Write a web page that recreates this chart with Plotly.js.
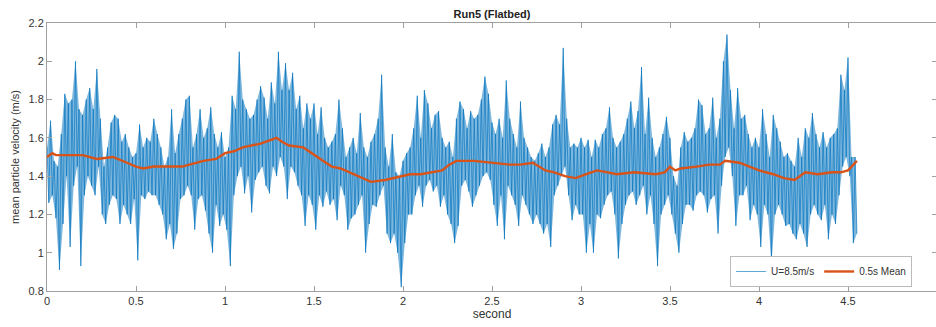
<!DOCTYPE html>
<html>
<head>
<meta charset="utf-8">
<script src="https://cdn.plot.ly/plotly-3.0.1.min.js"></script>
<style>
html,body{margin:0;padding:0;background:#fff;overflow:hidden;width:936px;height:327px;}
#plot{width:940px;height:327px;}
</style>
</head>
<body>
<div id="plot"></div>
<script>
// sample step of the instantaneous series (s)
const step = 0.02;
// upper extremes of the instantaneous velocity in each 0.02 s window (m/s)
const upperVel = [
1.55,1.69,1.48,1.45,1.62, 1.83,1.78,1.80,2.00,1.75, 1.72,1.80,1.86,1.75,1.96, 1.70,1.45,1.55,1.68,1.72,
1.70,1.58,1.62,1.55,1.50, 1.52,1.67,1.55,1.60,1.58, 1.70,1.62,1.55,1.45,1.50, 1.75,1.52,1.62,1.70,1.80,
1.82,1.55,1.62,1.75,1.60, 1.65,1.76,1.62,1.55,1.63, 1.50,1.55,1.82,1.75,2.05, 1.80,1.75,1.70,1.72,1.80,
1.87,1.81,1.70,1.89,1.78, 2.05,1.85,1.99,1.85,1.94, 1.75,1.82,1.65,1.78,1.70, 1.78,1.62,1.76,1.60,1.55,
1.58,1.62,1.80,1.65,1.50, 1.55,1.60,1.52,1.73,1.55, 1.50,1.58,1.62,1.70,1.93, 1.55,1.45,1.62,1.42,1.40,
1.48,1.52,1.55,1.65,1.82, 1.60,1.85,1.78,1.65,1.72, 1.74,1.60,1.55,1.58,1.50, 1.70,1.79,1.75,1.65,1.74,
1.70,1.72,1.80,1.92,1.83, 1.68,1.62,1.70,1.60,1.90, 1.70,1.62,1.55,1.79,1.60, 1.55,1.50,1.48,1.52,1.57,
1.50,1.55,1.67,1.72,1.67, 2.07,1.70,1.55,1.57,1.55, 1.60,1.55,1.59,1.50,1.59, 1.55,1.62,1.65,1.76,1.60,
1.55,1.58,1.62,1.70,1.79, 1.65,1.74,1.97,1.62,1.81, 1.60,1.50,1.55,1.62,1.71, 1.60,1.40,1.35,1.55,1.63,
1.58,1.60,1.65,1.80,1.77, 1.62,1.65,1.81,1.60,1.70, 2.00,2.14,1.85,1.65,1.86, 1.70,1.72,1.62,1.55,1.60,
1.55,1.75,1.62,1.50,1.72, 1.65,1.58,1.50,1.52,1.48, 1.45,1.60,1.50,1.65,1.60, 1.73,1.62,1.55,1.63,1.55,
1.60,1.62,1.65,1.93,1.85, 2.02,1.50,1.50
];
// lower extremes of the instantaneous velocity in each 0.02 s window (m/s)
const lowerVel = [
1.26,1.30,1.18,0.91,1.15, 1.40,1.03,1.35,1.45,0.93, 1.30,1.40,1.35,1.30,1.45, 1.20,1.15,1.25,1.30,1.28,
1.15,1.25,1.20,1.15,1.28, 0.96,1.30,1.28,1.32,1.30, 1.30,1.25,1.20,1.07,1.15, 1.02,1.10,1.28,1.30,1.35,
1.30,1.12,1.28,1.30,1.22, 1.10,1.00,1.25,1.14,1.20, 1.12,0.93,1.30,1.40,1.45, 1.31,1.40,1.21,1.38,1.42,
1.45,1.35,1.31,1.45,1.40, 1.50,1.45,1.28,1.45,1.42, 1.35,1.30,1.14,1.30,1.25, 1.12,1.30,1.24,1.32,1.25,
1.28,1.17,1.35,1.30,1.12, 1.18,1.20,1.25,1.30,1.00, 1.15,1.25,1.24,1.30,1.35, 1.10,1.05,1.10,1.00,0.82,
1.05,1.20,1.20,1.30,1.35, 1.24,1.35,1.38,1.32,1.35, 1.24,1.30,1.20,1.15,1.05, 1.14,1.35,1.38,1.32,1.24,
1.30,1.35,1.40,1.42,1.38, 1.25,1.14,1.30,1.07,1.35, 1.30,1.25,1.14,1.30,1.25, 1.20,1.15,1.20,1.15,1.10,
1.15,1.03,1.30,1.35,1.40, 1.45,1.30,1.17,1.25,1.20, 1.20,1.00,1.15,1.00,1.20, 1.18,1.25,1.30,1.32,1.20,
0.97,1.15,1.25,1.30,1.32, 1.25,1.30,1.35,1.20,1.30, 1.15,0.93,1.20,1.25,1.30, 1.20,1.10,1.00,1.15,1.25,
1.25,1.22,1.30,1.32,1.30, 1.21,1.28,1.30,1.10,1.35, 1.50,1.55,1.40,1.14,1.30, 1.30,1.35,1.17,1.25,1.20,
1.03,1.25,1.20,0.95,1.20, 1.25,1.20,1.14,1.15,1.10, 1.07,1.15,1.10,1.03,1.20, 1.25,1.20,1.17,1.25,1.07,
1.20,1.15,1.30,1.45,1.50, 1.40,1.05,1.10
];
// 0.5 s moving mean
const meanTime = [0,0.03,0.05,0.1,0.2,0.28,0.37,0.45,0.5,0.54,0.6,0.7,0.76,0.8,0.88,0.95,1.0,1.05,1.1,1.2,
1.29,1.32,1.36,1.44,1.5,1.55,1.6,1.65,1.7,1.75,1.82,1.9,1.95,2.04,2.1,2.17,2.22,2.26,2.3,2.4,
2.5,2.6,2.66,2.73,2.8,2.85,2.91,2.97,3.03,3.09,3.15,3.2,3.3,3.42,3.47,3.5,3.53,3.56,3.65,3.72,
3.78,3.81,3.89,3.95,4.0,4.08,4.14,4.2,4.23,4.26,4.33,4.41,4.46,4.5,4.55];
const meanVel = [1.50,1.52,1.51,1.51,1.51,1.49,1.50,1.47,1.45,1.44,1.45,1.45,1.45,1.46,1.48,1.49,1.52,1.53,1.55,1.57,
1.60,1.58,1.56,1.55,1.51,1.48,1.45,1.44,1.42,1.40,1.37,1.38,1.39,1.41,1.41,1.42,1.43,1.46,1.48,1.48,
1.47,1.46,1.46,1.47,1.43,1.42,1.40,1.39,1.41,1.43,1.42,1.41,1.42,1.41,1.42,1.45,1.43,1.44,1.45,1.46,
1.46,1.48,1.47,1.45,1.43,1.41,1.39,1.38,1.40,1.42,1.41,1.42,1.42,1.43,1.48];
const xTicks = [0,0.5,1,1.5,2,2.5,3,3.5,4,4.5,5];
const yTicks = [0.8,1,1.2,1.4,1.6,1.8,2,2.2];

// build the zig-zag instantaneous trace from the window extremes
const rawT = [], rawV = [], upT = [], loT = [];
for (let i = 0; i < upperVel.length; i++) {
  rawT.push(i * step); rawV.push(upperVel[i]);
  rawT.push(i * step + step / 2); rawV.push(lowerVel[i]);
  upT.push(i * step); loT.push(i * step + step / 2);
}

const font = 'Liberation Sans, Arial, Helvetica, sans-serif';
const blue = '0,114,189';
const traces = [
  {x: loT, y: lowerVel, type: 'scatter', mode: 'lines', showlegend: false, hoverinfo: 'skip',
   line: {color: 'rgba(' + blue + ',0)', width: 0}},
  {x: upT, y: upperVel, type: 'scatter', mode: 'lines', showlegend: false, hoverinfo: 'skip',
   fill: 'tonexty', fillcolor: 'rgba(' + blue + ',0.5)',
   line: {color: 'rgba(' + blue + ',0)', width: 0}},
  {x: rawT, y: rawV, type: 'scatter', mode: 'lines', name: 'U=8.5m/s',
   line: {color: 'rgba(' + blue + ',0.8)', width: 0.8}},
  {x: meanTime, y: meanVel, type: 'scatter', mode: 'lines', name: '0.5s Mean',
   line: {color: '#D95319', width: 2.4}}
];
const axisCommon = {showline: true, mirror: 'ticks', linecolor: '#a0a0a0', linewidth: 1,
  ticks: 'inside', ticklen: 5, tickcolor: '#a0a0a0', showgrid: false, zeroline: false,
  tickfont: {family: font, size: 11, color: '#333'}};
const layout = {
  width: 940, height: 327,
  margin: {l: 47, r: 3, t: 23, b: 36},
  paper_bgcolor: '#fff', plot_bgcolor: '#fff',
  title: {text: '<b>Run5 (Flatbed)</b>', font: {family: font, size: 11, color: '#222'},
          x: 0.5, xref: 'paper', y: 1 - 14/327, yanchor: 'middle'},
  xaxis: Object.assign({}, axisCommon, {range: [0, 5], tickvals: xTicks,
          title: {text: 'second', font: {family: font, size: 12, color: '#333'}, standoff: 2}}),
  yaxis: Object.assign({}, axisCommon, {range: [0.8, 2.2], tickvals: yTicks,
          title: {text: 'mean particle velocity (m/s)', font: {family: font, size: 11, color: '#333'}, standoff: 6}}),
  showlegend: true,
  legend: {orientation: 'h', traceorder: 'normal', x: 0.972, xanchor: 'right', y: 0.015, yanchor: 'bottom',
           bgcolor: '#fff', bordercolor: '#bbb', borderwidth: 1,
           font: {family: font, size: 10, color: '#333'}, itemwidth: 30,
           tracegroupgap: 0}
};
Plotly.newPlot('plot', traces, layout, {displayModeBar: false, staticPlot: true});
</script>
</body>
</html>
